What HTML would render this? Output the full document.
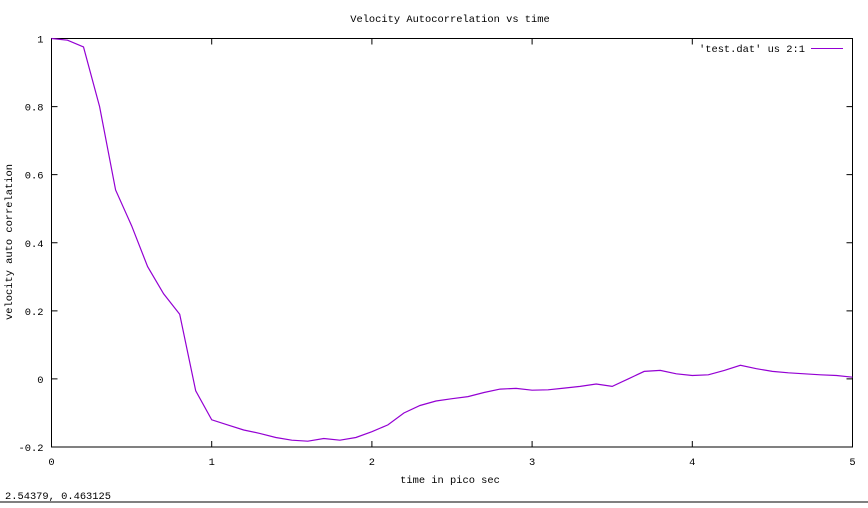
<!DOCTYPE html>
<html><head><meta charset="utf-8"><style>
body{margin:0;background:#fff;width:868px;height:503px;overflow:hidden}
text{font-family:"Liberation Mono","DejaVu Sans Mono",monospace;font-size:10.4px;fill:#000}
</style></head><body>
<svg id="chart" width="868" height="503" xmlns="http://www.w3.org/2000/svg">
<text x="450" y="22" text-anchor="middle">Velocity Autocorrelation vs time</text>
<text transform="translate(12,242) rotate(-90)" text-anchor="middle">velocity auto correlation</text>
<text x="450" y="483" text-anchor="middle">time in pico sec</text>
<text x="5" y="499">2.54379,  0.463125</text>
<line x1="0" y1="502" x2="868" y2="502" stroke="#000"/>
<rect x="51.5" y="38.5" width="801" height="408.5" fill="none" stroke="#000"/>
<g id="ticks"></g>
<g>
<text x="805" y="52" text-anchor="end">'test.dat' us 2:1</text>
<line x1="811" y1="48.5" x2="843" y2="48.5" stroke="#9400d3"/>
</g>
<path id="series" fill="none" stroke="#9400d3" stroke-width="1.2"/>
</svg>
<script>
const xs=[0,0.1,0.2,0.3,0.4,0.5,0.6,0.7,0.8,0.9,1.0,1.1,1.2,1.3,1.4,1.5,1.6,1.7,1.8,1.9,2.0,2.1,2.2,2.3,2.4,2.5,2.6,2.7,2.8,2.9,3.0,3.1,3.2,3.3,3.4,3.5,3.6,3.7,3.8,3.9,4.0,4.1,4.2,4.3,4.4,4.5,4.6,4.7,4.8,4.9,5.0];
const ys=[1.0,0.995,0.975,0.8,0.555,0.45,0.33,0.25,0.19,-0.035,-0.12,-0.135,-0.15,-0.16,-0.172,-0.18,-0.183,-0.175,-0.18,-0.172,-0.155,-0.135,-0.1,-0.078,-0.065,-0.058,-0.052,-0.04,-0.03,-0.028,-0.033,-0.032,-0.027,-0.022,-0.015,-0.022,0.0,0.022,0.025,0.015,0.01,0.012,0.025,0.04,0.03,0.022,0.018,0.015,0.012,0.01,0.005];
const xTicks=[0,1,2,3,4,5];
const yTicks=[-0.2,0,0.2,0.4,0.6,0.8,1];
const yTickLabels=["-0.2","0","0.2","0.4","0.6","0.8","1"];
const X0=51.5,X1=852.5,Y0=447,Y1=38.5;
function sx(v){return X0+(v-0)/(5-0)*(X1-X0);}
function sy(v){return Y0-(v+0.2)/(1.2)*(Y0-Y1);}
const NS="http://www.w3.org/2000/svg";
const g=document.getElementById('ticks');
function mk(t,a){const e=document.createElementNS(NS,t);for(const k in a)e.setAttribute(k,a[k]);g.appendChild(e);return e;}
xTicks.forEach(v=>{const x=sx(v);
 let l=mk('path',{d:`M${x},${Y0}v-6M${x},${Y1}v6`,stroke:'#000'});
 
 
 let t=mk('text',{x:x,y:Y0+18,'text-anchor':'middle'});t.textContent=String(v);
 
 
});
yTicks.forEach((v,i)=>{const y=sy(v);
 let l=mk('path',{d:`M${X0},${y}h6M${X1},${y}h-6`,stroke:'#000'});
 
 
 let t=mk('text',{x:X0-8,y:y+4,'text-anchor':'end'});t.textContent=yTickLabels[i];
 
 
});
document.getElementById('series').setAttribute('d',xs.map((x,i)=>(i?'L':'M')+sx(x).toFixed(1)+','+sy(ys[i]).toFixed(1)).join(''));
</script>
</body></html>
